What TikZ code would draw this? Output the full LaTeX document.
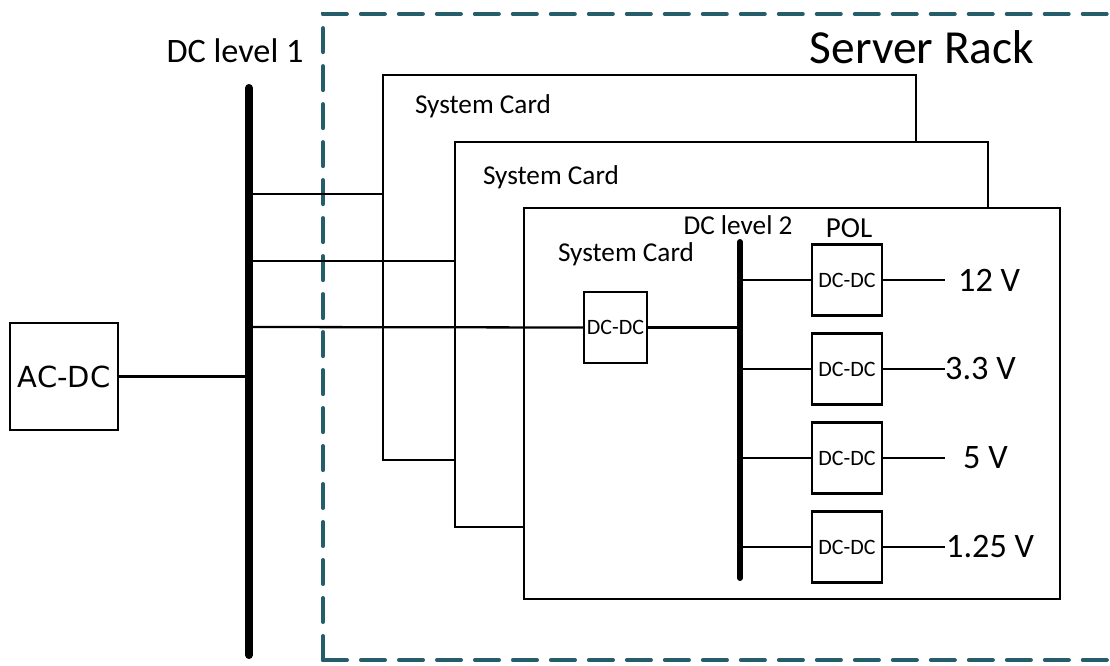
\documentclass[tikz,border=0pt]{standalone}
\usepackage{fontspec}
\setmainfont{Carlito}
\newfontfamily\acfont{DejaVu Sans}
\usepackage{xcolor}
\usetikzlibrary{positioning}
\definecolor{rackteal}{RGB}{38,93,107}

\begin{document}
\begin{tikzpicture}[x=0.02cm,y=-0.02cm,line width=1.3pt,
		card/.style={draw,fill=white,rectangle,inner sep=0pt},
		conv/.style={draw,rectangle,line width=1.4pt,minimum width=1.4cm,minimum height=1.42cm,inner sep=0pt,font=\fontsize{12.5}{14}\selectfont},
		bus/.style={line width=4.6pt,line cap=round},
		lbl/.style={inner sep=0pt,font=\fontsize{15.5}{18}\selectfont}]
		\clip (0,0) rectangle (1110,666);
		% server rack
		\draw[rackteal,line width=2.3pt,line cap=round,dash pattern=on 0.48cm off 0.28cm] (323,660) -- (323,14) -- (1140,14);
		\draw[rackteal,line width=2.3pt,line cap=round,dash pattern=on 0.48cm off 0.28cm] (323,660) -- (1140,660);
		\node[inner sep=0pt,font=\fontsize{27}{30}\selectfont]	(rack)	at (922,47)		{Server Rack};
		
		% system cards, back to front
		\node[card,minimum width=10.66cm,minimum height=7.7cm]	(card1)	at (649.5,267.5)	{};
		\node[card,minimum width=10.66cm,minimum height=7.7cm]	(card2)	at (721.5,334.5)	{};
		\node[card,minimum width=10.72cm,minimum height=7.82cm]	(card3)	at (792,403.5)		{};
		\node[lbl]	(name1)	at (483,106)	{System Card};
		\node[lbl]	(name2)	at (551,177)	{System Card};
		\node[lbl]	(name3)	at (626,254)	{System Card};
		
		% DC level 1
		\coordinate	(b1top)	at (249,88);
		\coordinate	(b1bot)	at (249,655);
		\draw[bus]	(b1top) -- (b1bot);
		\node[lbl,font=\fontsize{19.5}{22}\selectfont]	(lvl1)	at (235,51)		{DC level 1};
		\node[draw,rectangle,line width=1.4pt,minimum width=2.16cm,minimum height=2.14cm,inner sep=0pt,font=\acfont\fontsize{16.5}{19}\selectfont]	(acdc)	at (64,376.5)	{AC-DC};
		\draw	(acdc.east)	-- (acdc.east -| b1top);
		
		\coordinate	(tap1)	at (249,194);
		\coordinate	(tap2)	at (249,261);
		\coordinate	(tap3)	at (249,327);
		\node[conv,minimum width=1.26cm]	(dcdc)	at (615.5,327.5)	{DC-DC};
		\draw	(tap1)	-- (tap1 -| card1.west);
		\draw	(tap2)	-- (tap2 -| card2.west);
		\draw	(tap3)	-- (dcdc.west);
		
		% DC level 2 and POL
		\coordinate	(b2top)	at (740,242);
		\coordinate	(b2bot)	at (740,578);
		\draw[bus,line width=3.4pt]	(b2top) -- (b2bot);
		\node[lbl]	(lvl2)	at (738,225)	{DC level 2};
		\node[lbl,font=\fontsize{16.5}{19}\selectfont]	(pol)	at (849,228)	{POL};
		\draw	(dcdc.east)	-- (dcdc.east -| b2top);
		
		\foreach \volt/\lx [count=\i] in {12 V/957,3.3 V/944,5 V/962,1.25 V/945}{
			\node[conv]	(pol\i)	at (847,191+89*\i)	{DC-DC};
			\coordinate	(out\i)	at (945,191+89*\i);
			\draw	(pol\i.west -| b2top)	-- (pol\i.west);
			\draw	(pol\i.east)	-- (out\i);
			\node[lbl,anchor=west,font=\fontsize{19.5}{22}\selectfont]	(v\i)	at (\lx,191+89*\i)	{\volt};
		}
\end{tikzpicture}
\end{document}
